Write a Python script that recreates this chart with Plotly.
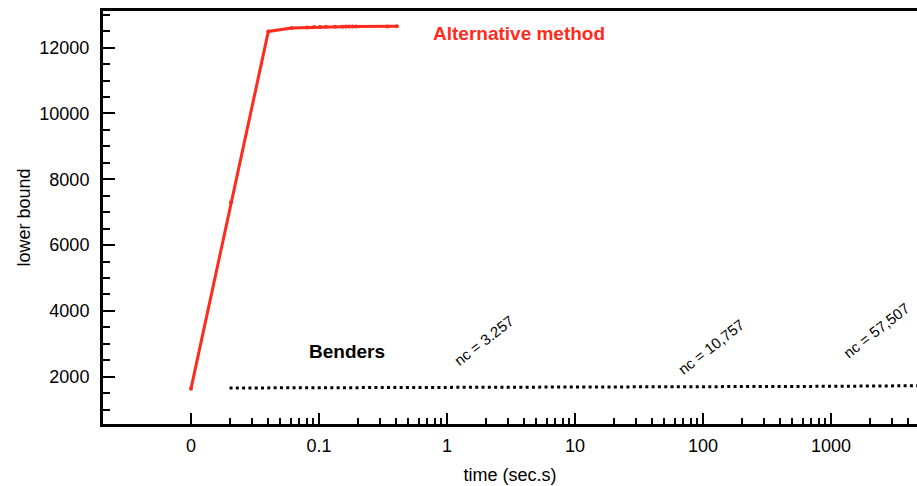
import math
import plotly.graph_objects as go

# ---- data ----
alt_time = [0.01, 0.0205, 0.0402, 0.0612, 0.0811, 0.0914, 0.1018, 0.1134, 0.1334,
            0.1532, 0.1625, 0.1725, 0.1833, 0.1946, 0.342, 0.405]
alt_lb = [1635, 7290, 12495, 12600, 12617, 12625, 12630, 12635, 12638,
          12640, 12642, 12643, 12644, 12645, 12647, 12648]

bend_time = [0.02, 0.1, 1, 10, 100, 1000, 5000]
bend_lb = [1655, 1660, 1668, 1680, 1692, 1705, 1725]

x_tickvals = [0.01, 0.1, 1, 10, 100, 1000]
x_ticktext = ["0", "0.1", "1", "10", "100", "1000"]
x_minor = [m * 10 ** k for k in range(-2, 4) for m in range(2, 10)]

nc_labels = ["nc = 3.257", "nc = 10,757", "nc = 57,507"]
nc_x = [1.945, 116.9, 2249]
nc_y = [3085, 2903, 3401]

RED = "#ff2b1c"
FONT = "Liberation Sans, Arial, Helvetica, sans-serif"

fig = go.Figure()
fig.add_trace(go.Scatter(x=alt_time, y=alt_lb, mode="lines+markers",
                         line=dict(color=RED, width=3),
                         marker=dict(color=RED, size=4),
                         name="Alternative method", showlegend=False))
fig.add_trace(go.Scatter(x=bend_time, y=bend_lb, mode="lines",
                         line=dict(color="black", width=3, dash="3px,3.3px"),
                         name="Benders", showlegend=False))

for t, xv, yv in zip(nc_labels, nc_x, nc_y):
    fig.add_annotation(x=math.log10(xv), y=yv, text=t, showarrow=False,
                       textangle=-38, font=dict(family=FONT, size=15, color="black"))

fig.add_annotation(x=0.5625, y=12416, text="<b>Alternative method</b>", showarrow=False,
                   font=dict(family=FONT, size=19, color=RED))
fig.add_annotation(x=-0.785, y=2751, text="<b>Benders</b>", showarrow=False,
                   font=dict(family=FONT, size=19, color="black"))

fig.update_layout(
    width=917, height=486,
    margin=dict(l=103, r=0, t=11, b=62),
    plot_bgcolor="white", paper_bgcolor="white",
    font=dict(family=FONT, size=18, color="black"),
    xaxis=dict(type="log", range=[-2.6875, 3.672],
               tickmode="array", tickvals=x_tickvals, ticktext=x_ticktext,
               ticks="inside", ticklen=11, tickwidth=2, tickcolor="black",
               showline=True, linewidth=3, linecolor="black", mirror=True,
               showgrid=False, zeroline=False,
               tickfont=dict(size=18), ticklabelstandoff=3,
               minor=dict(tickmode="array", tickvals=x_minor, ticks="inside",
                          ticklen=6, tickwidth=1.5, tickcolor="black", showgrid=False),
               title=dict(text="time (sec.s)", font=dict(size=18), standoff=14)),
    yaxis=dict(range=[560, 13115], tickmode="linear", tick0=0, dtick=2000,
               tickformat="d",
               ticks="inside", ticklen=12, tickwidth=2, tickcolor="black",
               showline=True, linewidth=3, linecolor="black",
               showgrid=False, zeroline=False,
               tickfont=dict(size=18), ticklabelstandoff=7,
               minor=dict(dtick=500, ticks="inside", ticklen=7, tickwidth=1.5,
                          tickcolor="black", showgrid=False),
               title=dict(text="lower bound", font=dict(size=18), standoff=5)),
)

fig.write_html(
    "out.html",
    config={"displayModeBar": False},
    post_script=("document.body.style.margin='0';"
                 "document.body.style.overflow='hidden';"
                 "document.documentElement.style.overflow='hidden';"),
)
